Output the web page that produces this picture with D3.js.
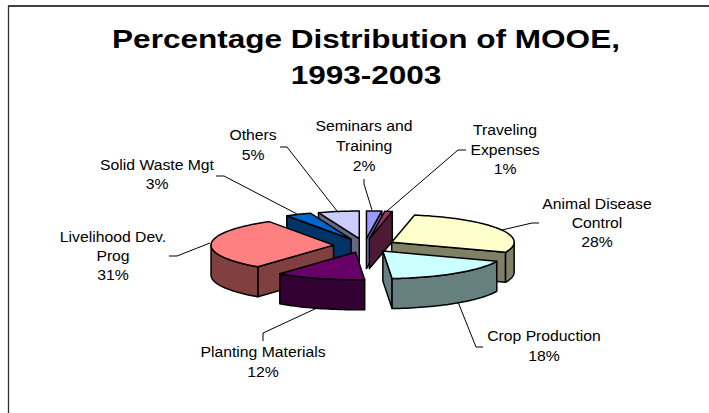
<!DOCTYPE html>
<html><head><meta charset="utf-8">
<script src="https://cdn.jsdelivr.net/npm/d3@7/dist/d3.min.js"></script>
<style>html,body{margin:0;padding:0;background:#fff}svg{display:block}text{font-family:"Liberation Sans",Arial,sans-serif;fill:#000}</style>
</head><body><svg id="c" width="709" height="413"></svg>
<script>
const titleLines = ["Percentage Distribution of MOOE,", "1993-2003"];
const categories = ["Seminars and Training","Traveling Expenses","Animal Disease Control","Crop Production","Planting Materials","Livelihood Dev. Prog","Solid Waste Mgt","Others"];
const values = [2,1,28,17.8,11.8,30.6,3.4,5.4];
const topColors = ["#9999FF","#993366","#FFFFCC","#CCFFFF","#660066","#FF8080","#0066CC","#CCCCFF"];
const sideColors = ["#7373BF","#4D1A33","#808066","#668080","#330033","#804040","#003366","#666680"];
const labelLines = [["Seminars and","Training","2%"],["Traveling","Expenses","1%"],["Animal Disease","Control","28%"],["Crop Production","18%"],["Planting Materials","12%"],["Livelihood Dev.","Prog","31%"],["Solid Waste Mgt","3%"],["Others","5%"]];
const labelX = [364,505,597,544,263,113,157,253];
const labelY = [126,130,204,336,352,237,165,135];
const labelGap = [20,19.5,19,20,20,19,19,20];
const leaders = [[[364,179],[364,184],[372,210]],[[466,150],[458,150],[387,211]],[[539,223],[532,223],[502,230]],[[483,347],[476,347],[458,302]],[[263,341],[263,333],[317,308]],[[169,256],[177,256],[210,243]],[[216,176],[224,176],[297,214]],[[280,147],[287,147],[337,211]]];
const drawOrder = [0,1,7,6,2,5,3,4];

const svg = d3.select("#c");
svg.append("path").attr("d","M8.5 413V5.5").attr("fill","none").attr("stroke","#303030").attr("stroke-width",1.3);
svg.append("path").attr("d","M8 6H709").attr("fill","none").attr("stroke","#404040").attr("stroke-width",2);
titleLines.forEach((t,i)=>svg.append("text").attr("transform",`translate(366,${48+i*35.5}) scale(1.19,1)`).attr("text-anchor","middle")
  .attr("font-size",26.5).attr("font-weight","bold").text(t));

const cx=364.5, cy=245.5, R=122.5, k=0.225, explode=31, depth=30;
const arcs = d3.pie().sort(null).startAngle(0).endAngle(2*Math.PI).value(d=>d)(values);
const line = d3.line();
const at=(a,r,o)=>[o[0]+r*Math.sin(a), o[1]-k*r*Math.cos(a)];
const down=p=>[p[0],p[1]+depth];

function rim(a0,a1,o){const n=Math.max(2,Math.ceil((a1-a0)/0.03));return d3.range(n+1).map(i=>at(a0+(a1-a0)*i/n,R,o));}
function draw(g,pts,fill){g.append("path").attr("d",line(pts)+"Z").attr("fill",fill).attr("stroke","#000").attr("stroke-width",1.5).attr("stroke-linejoin","round");}

drawOrder.forEach(i=>{
  const d=arcs[i], mid=(d.startAngle+d.endAngle)/2, o=at(mid,explode,[cx,cy]);
  const g=svg.append("g");
  const a0=d.startAngle,a1=d.endAngle,PI=Math.PI;
  if(a1<PI){const q=[o,at(a1,R,o)];draw(g,[q[0],q[1],down(q[1]),down(q[0])],sideColors[i]);}
  if(a0>PI){const q=[o,at(a0,R,o)];draw(g,[q[0],q[1],down(q[1]),down(q[0])],sideColors[i]);}
  const w0=Math.max(a0,PI/2), w1=Math.min(a1,3*PI/2);
  if(w1>w0){const r=rim(w0,w1,o);draw(g,r.concat(r.slice().reverse().map(down)),sideColors[i]);}
  draw(g,[o].concat(rim(a0,a1,o)),topColors[i]);
});

leaders.forEach(p=>svg.append("path").attr("d",line(p)).attr("fill","none").attr("stroke","#000").attr("stroke-width",1));

labelLines.forEach((ls,i)=>ls.forEach((t,j)=>svg.append("text").attr("transform",`translate(${labelX[i]},${labelY[i]+j*labelGap[i]+5.2}) scale(1.05,1)`)
  .attr("text-anchor","middle").attr("font-size",15).text(t)));
</script></body></html>
